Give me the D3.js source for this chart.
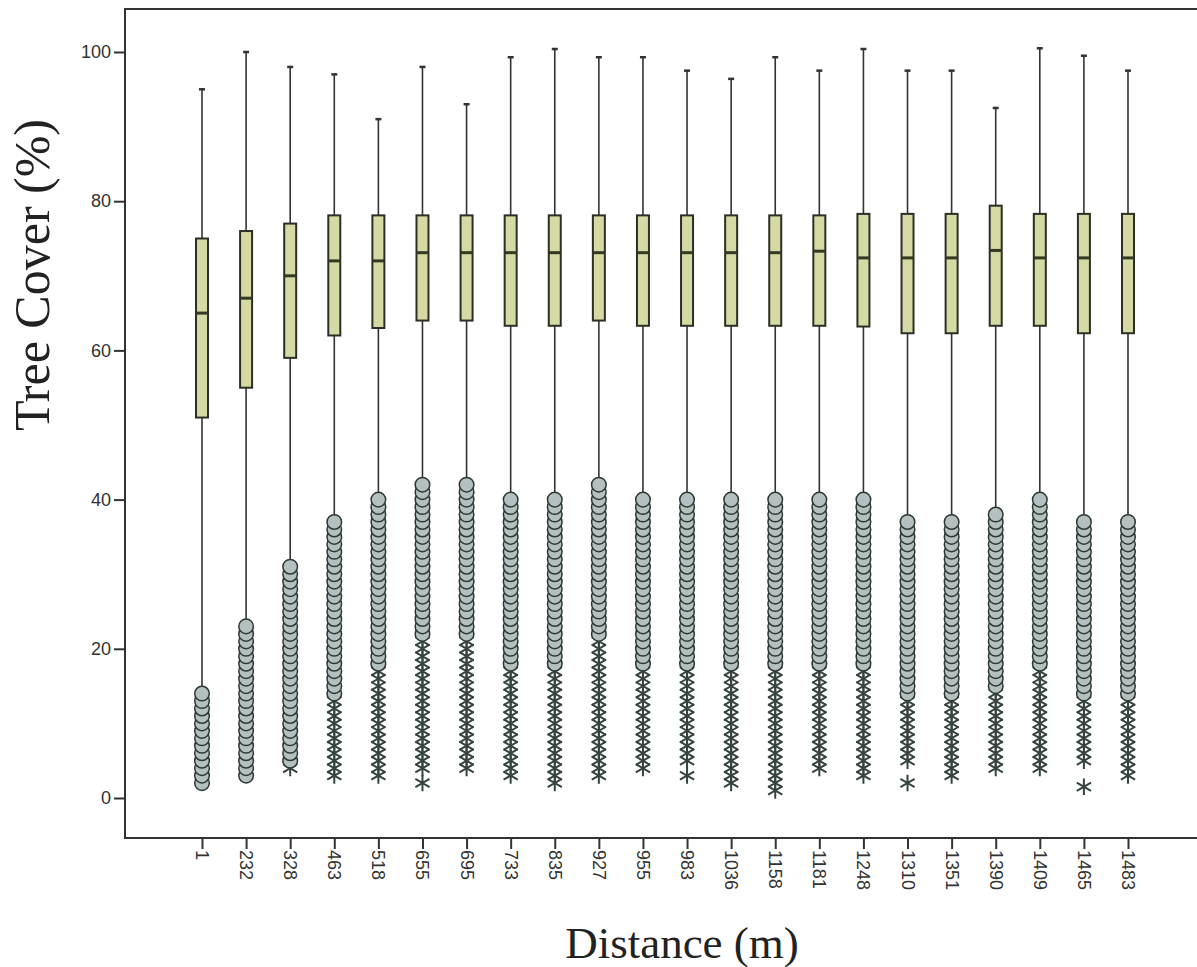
<!DOCTYPE html>
<html>
<head>
<meta charset="utf-8">
<script src="https://cdn.jsdelivr.net/npm/d3@7"></script>
<style>
  body { margin: 0; background: #fff; }
  svg { display: block; }
</style>
</head>
<body>
<div id="chart"></div>
<script>
var width = 1197, height = 967;

// Data
var categories = ["1", "232", "328", "463", "518", "655", "695", "733", "835", "927", "955",
                  "983", "1036", "1158", "1181", "1248", "1310", "1351", "1390", "1409", "1465", "1483"];
var whiskerHigh = [95, 100, 98, 97, 91, 98, 93, 99.3, 100.4, 99.3, 99.3,
                   97.5, 96.4, 99.3, 97.5, 100.4, 97.5, 97.5, 92.5, 100.5, 99.5, 97.5];
var q3 = [75, 76, 77, 78.1, 78.1, 78.1, 78.1, 78.1, 78.1, 78.1, 78.1,
          78.1, 78.1, 78.1, 78.1, 78.3, 78.3, 78.3, 79.4, 78.3, 78.3, 78.3];
var medians = [65, 67, 70, 72, 72, 73.1, 73.1, 73.1, 73.1, 73.1, 73.1,
               73.1, 73.1, 73.1, 73.3, 72.4, 72.4, 72.4, 73.4, 72.4, 72.4, 72.4];
var q1 = [51, 55, 59, 62, 63, 64, 64, 63.3, 63.3, 64, 63.3,
          63.3, 63.3, 63.3, 63.3, 63.2, 62.3, 62.3, 63.3, 63.3, 62.3, 62.3];
var whiskerLow = [15, 24, 32, 38, 41, 43, 43, 41, 41, 43, 41,
                  41, 41, 41, 41, 41, 38, 38, 39, 41, 38, 38];
// outliers (circles) occur at every whole percent between these bounds
var circleLow = [2, 3, 5, 14, 18, 22, 22, 18, 18, 22, 18,
                 18, 18, 18, 18, 18, 14, 14, 15, 18, 14, 14];
var circleHigh = [14, 23, 31, 37, 40, 42, 42, 40, 40, 42, 40,
                  40, 40, 40, 40, 40, 37, 37, 38, 40, 37, 37];
// extremes (stars) at every whole percent between these bounds, null = none
var starLow = [null, null, 4, 3, 3, 4, 4, 3, 2, 3, 4,
               5, 2, 1, 4, 3, 5, 3, 4, 4, 5, 3];
var starHigh = [null, null, 4, 13, 17, 21, 21, 17, 17, 21, 17,
                17, 17, 17, 17, 17, 13, 13, 14, 17, 13, 13];
// single stray extremes
var strayStars = [["655", 2], ["983", 3], ["1310", 2], ["1465", 1.5]];
var yTicks = [0, 20, 40, 60, 80, 100];

var frame = {left: 125, top: 9, bottom: 838};

var svg = d3.select("#chart").append("svg")
    .attr("width", width)
    .attr("height", height);

var x = d3.scalePoint()
    .domain(categories)
    .range([202, 1128]);

var y = d3.scaleLinear()
    .domain([0, 100])
    .range([798, 52]);

var boxes = categories.map(function(c, i) {
    return {
        cat: c, hi: whiskerHigh[i], q3: q3[i], med: medians[i], q1: q1[i], lo: whiskerLow[i],
        circles: d3.range(circleLow[i], circleHigh[i] + 1),
        stars: starLow[i] === null ? [] : d3.range(starLow[i], starHigh[i] + 1)
    };
});

// frame
svg.append("path")
    .attr("d", "M" + (width + 5) + "," + frame.top + "H" + frame.left + "V" + frame.bottom + "H" + (width + 5))
    .attr("fill", "none")
    .attr("stroke", "#333")
    .attr("stroke-width", 2);

// y axis
var yAxis = d3.axisLeft(y).tickValues(yTicks).tickSize(11).tickPadding(3);
var yg = svg.append("g")
    .attr("transform", "translate(" + frame.left + ",0)")
    .call(yAxis);
yg.select(".domain").remove();
yg.selectAll(".tick line").attr("stroke", "#333").attr("stroke-width", 2);
yg.selectAll(".tick text")
    .attr("fill", "#333")
    .style("font-family", "'Liberation Sans', Arial, sans-serif")
    .style("font-size", "18px");

// x axis
var xAxis = d3.axisBottom(x).tickSize(11).tickPadding(0);
var xg = svg.append("g")
    .attr("transform", "translate(0," + frame.bottom + ")")
    .call(xAxis);
xg.select(".domain").remove();
xg.selectAll(".tick line").attr("stroke", "#333").attr("stroke-width", 2);
xg.selectAll(".tick text")
    .attr("fill", "#333")
    .attr("transform", "rotate(90)")
    .attr("text-anchor", "start")
    .attr("x", 12)
    .attr("y", 0)
    .attr("dy", "0.36em")
    .style("font-family", "'Liberation Sans', Arial, sans-serif")
    .style("font-size", "18px");

var g = svg.append("g");

// whiskers
g.selectAll(".whisker")
    .data(boxes)
    .enter().append("line")
    .attr("x1", d => x(d.cat)).attr("x2", d => x(d.cat))
    .attr("y1", d => y(d.hi)).attr("y2", d => y(d.lo))
    .attr("stroke", "#333")
    .attr("stroke-width", 1.6);

g.selectAll(".cap")
    .data(boxes)
    .enter().append("line")
    .attr("x1", d => x(d.cat) - 3).attr("x2", d => x(d.cat) + 3)
    .attr("y1", d => y(d.hi)).attr("y2", d => y(d.hi))
    .attr("stroke", "#333")
    .attr("stroke-width", 2.5);

// boxes
var boxW = 12;
g.selectAll(".box")
    .data(boxes)
    .enter().append("rect")
    .attr("x", d => x(d.cat) - boxW / 2)
    .attr("width", boxW)
    .attr("y", d => y(d.q3))
    .attr("height", d => y(d.q1) - y(d.q3))
    .attr("fill", "#d5d9a3")
    .attr("stroke", "#2c2f25")
    .attr("stroke-width", 2);

g.selectAll(".median")
    .data(boxes)
    .enter().append("line")
    .attr("x1", d => x(d.cat) - boxW / 2).attr("x2", d => x(d.cat) + boxW / 2)
    .attr("y1", d => y(d.med)).attr("y2", d => y(d.med))
    .attr("stroke", "#353822")
    .attr("stroke-width", 3);

// extremes
var star = d3.symbol().type(d3.symbolAsterisk).size(190);
var starData = [];
boxes.forEach(function(b) {
    b.stars.forEach(function(v) { starData.push({cat: b.cat, v: v}); });
});
strayStars.forEach(function(s) { starData.push({cat: s[0], v: s[1]}); });

g.selectAll(".star")
    .data(starData)
    .enter().append("path")
    .attr("d", star)
    .attr("transform", d => "translate(" + x(d.cat) + "," + y(d.v) + ")")
    .attr("fill", "none")
    .attr("stroke", "#36443f")
    .attr("stroke-width", 2);

// outliers, drawn low to high so each lower rim shows
var circleData = [];
boxes.forEach(function(b) {
    b.circles.forEach(function(v) { circleData.push({cat: b.cat, v: v}); });
});

g.selectAll(".outlier")
    .data(circleData)
    .enter().append("circle")
    .attr("cx", d => x(d.cat))
    .attr("cy", d => y(d.v))
    .attr("r", 7.3)
    .attr("fill", "#b4c0c0")
    .attr("stroke", "#2c3834")
    .attr("stroke-width", 1.5);

// axis titles
svg.append("text")
    .attr("transform", "translate(49,275) rotate(-90)")
    .attr("text-anchor", "middle")
    .attr("fill", "#222")
    .style("font-family", "'Liberation Serif', 'Times New Roman', serif")
    .style("font-size", "50px")
    .text("Tree Cover (%)");

svg.append("text")
    .attr("x", 682)
    .attr("y", 958)
    .attr("text-anchor", "middle")
    .attr("fill", "#222")
    .style("font-family", "'Liberation Serif', 'Times New Roman', serif")
    .style("font-size", "45px")
    .text("Distance (m)");
</script>
</body>
</html>
